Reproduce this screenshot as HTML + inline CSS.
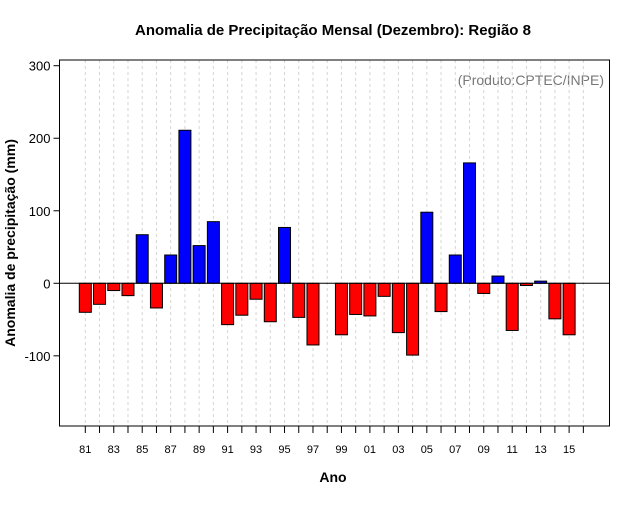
<!DOCTYPE html>
<html><head><meta charset="utf-8"><style>
body{margin:0;background:#fff;}
svg text{font-family:"Liberation Sans",sans-serif;}
</style></head><body>
<svg id="chart" width="640" height="500" xmlns="http://www.w3.org/2000/svg">
<rect x="0" y="0" width="640" height="500" fill="#fff"/>
<text x="333" y="35" text-anchor="middle" font-size="15" font-weight="bold">Anomalia de Precipitação Mensal (Dezembro): Região 8</text>
<text x="604" y="85" text-anchor="end" font-size="14" fill="#777">(Produto:CPTEC/INPE)</text>
<text x="333" y="482" text-anchor="middle" font-size="14" font-weight="bold">Ano</text>
<text transform="translate(15,243) rotate(-90)" text-anchor="middle" font-size="14" font-weight="bold">Anomalia de precipitação (mm)</text>
<g id="grid"></g><g id="bars"></g><g id="axes"></g>
</svg>
<script>
const years=[81,82,83,84,85,86,87,88,89,90,91,92,93,94,95,96,97,98,99,0,1,2,3,4,5,6,7,8,9,10,11,12,13,14,15];
const values=[-40,-29,-10,-17,67,-34,39,211,52,85,-57,-44,-22,-53,77,-47,-85,0,-71,-43,-45,-18,-68,-99,98,-39,39,166,-14,10,-65,-3,3,-49,-71];
const yTicks=[-100,0,100,200,300];
const xTickLabels=["81","83","85","87","89","91","93","95","97","99","01","03","05","07","09","11","13","15"];
const NS="http://www.w3.org/2000/svg";
const L=59.5,R=609.5,T=60,B=426;
const x=i=>85.3+i*14.23;
const y=v=>283.3-v*0.7253;
function mk(tag,attrs,parent){const e=document.createElementNS(NS,tag);for(const k in attrs)e.setAttribute(k,attrs[k]);parent.appendChild(e);return e;}
const grid=document.getElementById('grid'),bars=document.getElementById('bars'),axes=document.getElementById('axes');
for(let i=0;i<=35;i++){
  const g=mk('line',{x1:x(i),x2:x(i),y1:T,y2:B,stroke:'#d4d4d4','stroke-dasharray':'3,3','stroke-width':1},grid);
  
  
  const t=mk('line',{x1:x(i),x2:x(i),y1:B,y2:B+7,stroke:'#000'},axes);
  
  
}
xTickLabels.forEach((lab,k)=>{
  const t=mk('text',{x:x(k*2),y:453,'text-anchor':'middle','font-size':11},axes);
  t.textContent=lab;
  
  
});
values.forEach((v,i)=>{
  if(v===0)return;
  const y0=y(0),y1=y(v);
  const r=mk('rect',{x:x(i)-6,y:Math.min(y0,y1),width:12,height:Math.abs(y1-y0),fill:v>0?'#0000ff':'#ff0000',stroke:'#000','stroke-width':1},bars);
  
  
});
const z=mk('line',{x1:L,x2:R,y1:y(0),y2:y(0),stroke:'#000'},axes);


const fr=mk('rect',{x:L,y:T,width:R-L,height:B-T,fill:'none',stroke:'#000'},axes);


yTicks.forEach(v=>{
  const t=mk('line',{x1:L-6,x2:L,y1:y(v),y2:y(v),stroke:'#000'},axes);
  
  
  const l=mk('text',{x:L-9,y:y(v)+5,'text-anchor':'end','font-size':13},axes);
  l.textContent=String(v);
  
  
});
</script>
</body></html>
